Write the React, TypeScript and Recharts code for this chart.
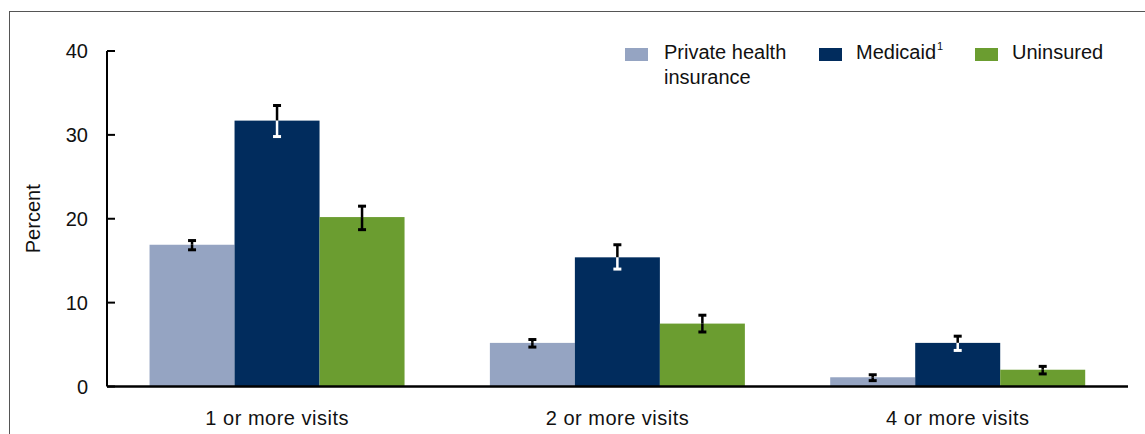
import React from "react";
import { BarChart, Bar, XAxis, YAxis, Label } from "recharts";

// values (percent)
const categories = ["1 or more visits", "2 or more visits", "4 or more visits"];
const privateValues = [16.9, 5.2, 1.1];
const privateLow = [16.3, 4.7, 0.7];
const privateHigh = [17.4, 5.6, 1.4];
const medicaidValues = [31.7, 15.4, 5.2];
const medicaidLow = [29.8, 14.0, 4.3];
const medicaidHigh = [33.5, 16.9, 6.0];
const uninsuredValues = [20.2, 7.5, 2.0];
const uninsuredLow = [18.7, 6.5, 1.5];
const uninsuredHigh = [21.5, 8.5, 2.4];
const yTicks = [0, 10, 20, 30, 40];

const privateColor = "#95a4c2";
const medicaidColor = "#012c5d";
const uninsuredColor = "#6b9d30";
const font = "'Liberation Sans', Arial, sans-serif";

const data = categories.map((name, i) => ({
	name,
	private: privateValues[i],
	privateLow: privateLow[i],
	privateHigh: privateHigh[i],
	medicaid: medicaidValues[i],
	medicaidLow: medicaidLow[i],
	medicaidHigh: medicaidHigh[i],
	uninsured: uninsuredValues[i],
	uninsuredLow: uninsuredLow[i],
	uninsuredHigh: uninsuredHigh[i],
}));

// bar rect plus its error bar; the part of the error bar inside the bar gets innerColor
const makeShape = (key: string, innerColor: string) => (props: any) => {
	const { x, y, width, height, fill, payload } = props;
	const v = payload[key];
	const base = y + height;
	const ppu = v ? height / v : 0;
	const yLow = base - payload[key + "Low"] * ppu;
	const yHigh = base - payload[key + "High"] * ppu;
	const cx = x + width / 2;
	const cap = 4;
	const sw = 2.5;
	const capW = 3;
	return (
		<g>
			<rect x={x} y={y} width={width} height={height} fill={fill} />
			{yHigh < y && (
				<line x1={cx} x2={cx} y1={yHigh} y2={Math.min(yLow, y)} stroke="#000" strokeWidth={sw} />
			)}
			{yLow > y && (
				<line x1={cx} x2={cx} y1={Math.max(yHigh, y)} y2={yLow} stroke={innerColor} strokeWidth={sw} />
			)}
			<line x1={cx - cap} x2={cx + cap} y1={yHigh} y2={yHigh} stroke={yHigh < y ? "#000" : innerColor} strokeWidth={capW} />
			<line x1={cx - cap} x2={cx + cap} y1={yLow} y2={yLow} stroke={yLow < y ? "#000" : innerColor} strokeWidth={capW} />
		</g>
	);
};

const YTick = (props: any) => {
	const { x, y, payload } = props;
	return (
		<g>
			<line x1={x + 19} x2={x + 27} y1={y} y2={y} stroke="#000" strokeWidth={2} />
			<text x={x} y={y} dy={7} textAnchor="end" fontSize={20} fill="#111" fontFamily={font}>
				{payload.value}
			</text>
		</g>
	);
};

const legendItems = [
	{ lines: ["Private health", "insurance"], color: privateColor, sup: "", box: 0, text: 39 },
	{ lines: ["Medicaid"], color: medicaidColor, sup: "1", box: 194, text: 231 },
	{ lines: ["Uninsured"], color: uninsuredColor, sup: "", box: 350, text: 387 },
];

export default function App() {
	return (
		<div
			style={{
				position: "absolute",
				left: 0,
				top: 0,
				width: 1145,
				height: 434,
				overflow: "hidden",
				background: "#fff",
				fontFamily: font,
			}}
		>
			<div
				style={{
					position: "absolute",
					left: 9,
					top: 11,
					width: 1200,
					height: 500,
					borderLeft: "1.5px solid #555",
					borderTop: "1.5px solid #555",
				}}
			/>
			<BarChart
				width={1145}
				height={434}
				data={data}
				margin={{ top: 51, right: 17, bottom: 17.5, left: 0 }}
				barCategoryGap="12.5%"
				barGap={0}
			>
				<XAxis
					dataKey="name"
					tickLine={false}
					axisLine={{ stroke: "#000", strokeWidth: 2.5 }}
					tickMargin={18}
					height={30}
					tick={{ fontSize: 20, fill: "#111", fontFamily: font, letterSpacing: 0.5 }}
				/>
				<YAxis
					domain={[0, 40]}
					ticks={yTicks}
					width={107}
					tickLine={false}
					tickSize={0}
					tickMargin={19}
					axisLine={{ stroke: "#000", strokeWidth: 2 }}
					tick={<YTick />}
				>
					<Label
						content={(p: any) => {
							const vb = p.viewBox;
							const cx = vb.x + 33;
							const cy = vb.y + vb.height / 2;
							return (
								<text
									x={cx}
									y={cy}
									transform={`rotate(-90 ${cx} ${cy})`}
									textAnchor="middle"
									dominantBaseline="central"
									fontSize={20}
									fill="#111"
									fontFamily={font}
								>
									Percent
								</text>
							);
						}}
					/>
				</YAxis>
				<Bar dataKey="private" fill={privateColor} isAnimationActive={false} shape={makeShape("private", "#000")} />
				<Bar dataKey="medicaid" fill={medicaidColor} isAnimationActive={false} shape={makeShape("medicaid", "#fff")} />
				<Bar dataKey="uninsured" fill={uninsuredColor} isAnimationActive={false} shape={makeShape("uninsured", "#000")} />
			</BarChart>
			<div style={{ position: "absolute", left: 625, top: 40, width: 510, height: 60 }}>
				{legendItems.map((item) => (
					<React.Fragment key={item.lines[0]}>
						<div
							style={{
								position: "absolute",
								left: item.box,
								top: 8,
								width: 23,
								height: 13,
								background: item.color,
							}}
						/>
						<div
							style={{
								position: "absolute",
								left: item.text,
								top: 0,
								fontSize: 20,
								lineHeight: "25px",
								color: "#111",
								whiteSpace: "nowrap",
							}}
						>
							{item.lines.map((l, i) => (
								<div key={i}>
									{l}
									{i === 0 && item.sup && (
										<span style={{ fontSize: 11, position: "relative", top: -9, marginLeft: 1 }}>
											{item.sup}
										</span>
									)}
								</div>
							))}
						</div>
					</React.Fragment>
				))}
			</div>
		</div>
	);
}
